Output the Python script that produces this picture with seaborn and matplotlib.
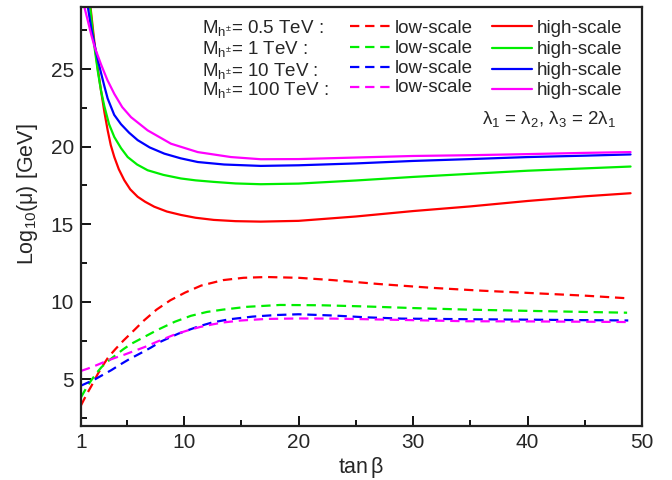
import numpy as np
import pandas as pd
import matplotlib
matplotlib.use("Agg")
import matplotlib.pyplot as plt
import seaborn as sns
from matplotlib.lines import Line2D
from matplotlib.ticker import MultipleLocator, FixedLocator

# --- data ---------------------------------------------------------------
masses = ["0.5 TeV", "1 TeV", "10 TeV", "100 TeV"]
colors = ["#ff0000", "#00ee00", "#0000ff", "#ff00ff"]

# high-scale (solid)
x_high_05 = [1, 1.4, 1.8, 2.16, 2.45, 2.75, 3.05, 3.33, 3.6, 3.91, 4.3, 4.78,
             5.3, 5.95, 6.6, 7.4, 8.5, 9.73, 11, 12.6, 14.5, 16.7, 20, 25, 30,
             35, 40, 45, 49]
y_high_05 = [36, 32.3, 29.2, 26.8, 25.1, 23.6, 22.2, 21.05, 20.1, 19.33,
             18.55, 17.84, 17.25, 16.77, 16.45, 16.13, 15.82, 15.6, 15.42,
             15.28, 15.2, 15.17, 15.22, 15.5, 15.85, 16.15, 16.5, 16.8, 17.0]
x_high_1 = [1, 1.4, 1.8, 2.16, 2.46, 2.75, 3.04, 3.45, 3.91, 4.5, 5.08, 5.9,
            6.82, 8.2, 9.73, 11, 12.6, 14.5, 16.7, 20, 25, 30, 35, 40, 45, 49]
y_high_1 = [35, 31.6, 29.0, 26.5, 24.9, 23.6, 22.6, 21.45, 20.62, 19.9,
            19.33, 18.85, 18.48, 18.18, 17.95, 17.83, 17.73, 17.63, 17.58,
            17.62, 17.82, 18.05, 18.25, 18.45, 18.6, 18.72]
x_high_10 = [1, 1.3, 1.6, 1.9, 2.2, 2.5, 2.75, 3.04, 3.33, 3.9, 4.49, 5.2,
             5.95, 7, 8.28, 9.7, 11.2, 13.5, 16.7, 20, 25, 30, 35, 40, 45, 49]
y_high_10 = [32.5, 30.6, 29.0, 27.6, 26.5, 25.5, 24.75, 23.9, 23.1, 22.05,
             21.45, 20.9, 20.42, 19.95, 19.55, 19.25, 19.01, 18.85, 18.76,
             18.8, 18.92, 19.08, 19.2, 19.33, 19.42, 19.5]
x_high_100 = [1, 1.26, 1.6, 1.9, 2.2, 2.5, 2.75, 3.3, 3.91, 4.6, 5.37, 6.82,
              8.86, 11.2, 14.1, 16.7, 20, 25, 30, 35, 40, 45, 49]
y_high_100 = [30, 29.1, 28.1, 27.2, 26.4, 25.8, 25.3, 24.3, 23.4, 22.55,
              21.9, 21.05, 20.19, 19.65, 19.33, 19.19, 19.2, 19.3, 19.4,
              19.45, 19.52, 19.6, 19.65]

# low-scale (dashed)
x_low_05 = [1, 1.5, 1.9, 2.5, 3, 3.4, 4, 4.7, 5.4, 6.5, 7.6, 8.8, 10.1, 11.5,
            13.4, 15.2, 17.2, 20, 23, 27, 31.7, 36, 40.5, 45, 48.5]
y_low_05 = [3.33, 4.05, 4.57, 5.4, 6.0, 6.45, 6.95, 7.5, 8.0, 8.8, 9.5, 10.1,
            10.6, 11.05, 11.4, 11.55, 11.6, 11.55, 11.4, 11.15, 10.9, 10.72,
            10.56, 10.4, 10.24]
x_low_1 = [1, 1.5, 1.9, 2.4, 2.8, 3.4, 4, 4.7, 5.4, 6.3, 7.7, 9.2, 10.6, 12,
           13.4, 15.5, 18.4, 22, 26, 30, 34.7, 40, 45, 48.7]
y_low_1 = [3.85, 4.5, 4.95, 5.45, 5.8, 6.2, 6.55, 6.95, 7.3, 7.65, 8.2, 8.72,
           9.1, 9.35, 9.5, 9.68, 9.8, 9.78, 9.7, 9.6, 9.5, 9.42, 9.35, 9.3]
x_low_10 = [1, 1.6, 2.2, 2.8, 3.65, 4.4, 5.2, 6.1, 7.1, 8.0, 9.5, 11.2, 12.5,
            14, 16, 18, 20, 23, 26, 29, 35, 40.5, 45, 48.8]
y_low_10 = [4.6, 4.8, 5.0, 5.25, 5.6, 5.95, 6.3, 6.65, 7.05, 7.45, 7.95, 8.4,
            8.68, 8.88, 9.05, 9.15, 9.2, 9.12, 9.0, 8.92, 8.88, 8.85, 8.82,
            8.8]
x_low_100 = [1, 1.6, 2.3, 3.1, 4, 4.8, 5.7, 6.6, 7.7, 9.2, 10.5, 11.4, 12.5,
             13.4, 15, 17.2, 20, 23, 26, 30, 34.7, 40, 45, 48.7]
y_low_100 = [5.55, 5.7, 5.9, 6.15, 6.4, 6.6, 6.85, 7.1, 7.45, 7.9, 8.2, 8.38,
             8.55, 8.67, 8.8, 8.9, 8.93, 8.92, 8.88, 8.82, 8.75, 8.74, 8.72,
             8.7]

xticks = [1, 10, 20, 30, 40, 50]
xminor = [5, 15, 25, 35, 45]

high = [(x_high_05, y_high_05), (x_high_1, y_high_1),
        (x_high_10, y_high_10), (x_high_100, y_high_100)]
low = [(x_low_05, y_low_05), (x_low_1, y_low_1),
       (x_low_10, y_low_10), (x_low_100, y_low_100)]

frames = []
for m, (xh, yh), (xl, yl) in zip(masses, high, low):
    frames.append(pd.DataFrame({"tanb": xh, "mu": yh, "mass": m,
                                "scale": "high-scale"}))
    frames.append(pd.DataFrame({"tanb": xl, "mu": yl, "mass": m,
                                "scale": "low-scale"}))
df = pd.concat(frames, ignore_index=True)

# --- style ---------------------------------------------------------------
sns.set_style("ticks")
plt.rcParams["font.family"] = ["Liberation Sans", "DejaVu Sans"]
plt.rcParams["mathtext.fontset"] = "custom"
plt.rcParams["mathtext.rm"] = "Liberation Sans"
plt.rcParams["mathtext.it"] = "Liberation Sans:italic"

dash = (4.2, 2.6)

fig = plt.figure(figsize=(6.72, 4.8), dpi=100)
ax = fig.add_axes([81 / 672, 54 / 480, 561 / 672, 419 / 480])

sns.lineplot(data=df, x="tanb", y="mu", hue="mass", style="scale",
             hue_order=masses, palette=colors,
             style_order=["low-scale", "high-scale"],
             dashes={"low-scale": dash, "high-scale": ""},
             estimator=None, sort=True, linewidth=1.6, legend=False, ax=ax)

ax.set_xlim(1, 50)
ax.set_ylim(2, 29)
ax.xaxis.set_major_locator(FixedLocator(xticks))
ax.xaxis.set_minor_locator(FixedLocator(xminor))
ax.yaxis.set_major_locator(MultipleLocator(5))
ax.yaxis.set_minor_locator(MultipleLocator(2.5))
ax.tick_params(which="both", direction="in", top=False, right=False,
               width=1.3, color="k", labelsize=15, pad=5)
ax.tick_params(which="major", length=7)
ax.tick_params(which="minor", length=4)
for s in ax.spines.values():
    s.set_linewidth(1.6)
    s.set_color("#222222")

ax.set_xlabel(r"tan$\,$β", fontsize=15.5, labelpad=2)
ax.set_ylabel(r"Log$_{10}$(μ) [GeV]", fontsize=15.5)
ax.yaxis.set_label_coords(-0.073, 0.554)

# --- hand-made legend block ----------------------------------------------
def fx(px):
    return px / 672


def fy(py):
    return 1 - py / 480


m_base = [33, 54, 76, 95]
lo_base = [33, 53, 73, 92]
hi_base = [33, 54, 75, 95]
lo_line = [26, 47, 67, 87]
hi_line = [26, 48, 69, 89]
for i, (m, c) in enumerate(zip(masses, colors)):
    fig.text(fx(202), fy(m_base[i]), r"M$_{\mathregular{h}^{\pm}}$= " + m + " :",
             fontsize=13.5, va="baseline")
    fig.add_artist(Line2D([fx(350), fx(391)], [fy(lo_line[i])] * 2, color=c,
                          lw=1.6, dashes=dash, transform=fig.transFigure))
    fig.text(fx(395), fy(lo_base[i]), "low-scale", fontsize=13.5,
             va="baseline")
    fig.add_artist(Line2D([fx(492), fx(532)], [fy(hi_line[i])] * 2, color=c,
                          lw=1.6, transform=fig.transFigure))
    fig.text(fx(537), fy(hi_base[i]), "high-scale", fontsize=13.5,
             va="baseline")

fig.text(fx(482), fy(124), r"λ$_1$ = λ$_2$, λ$_3$ = 2λ$_1$", fontsize=13.5,
         va="baseline")

fig.savefig("out.png", dpi=100)
